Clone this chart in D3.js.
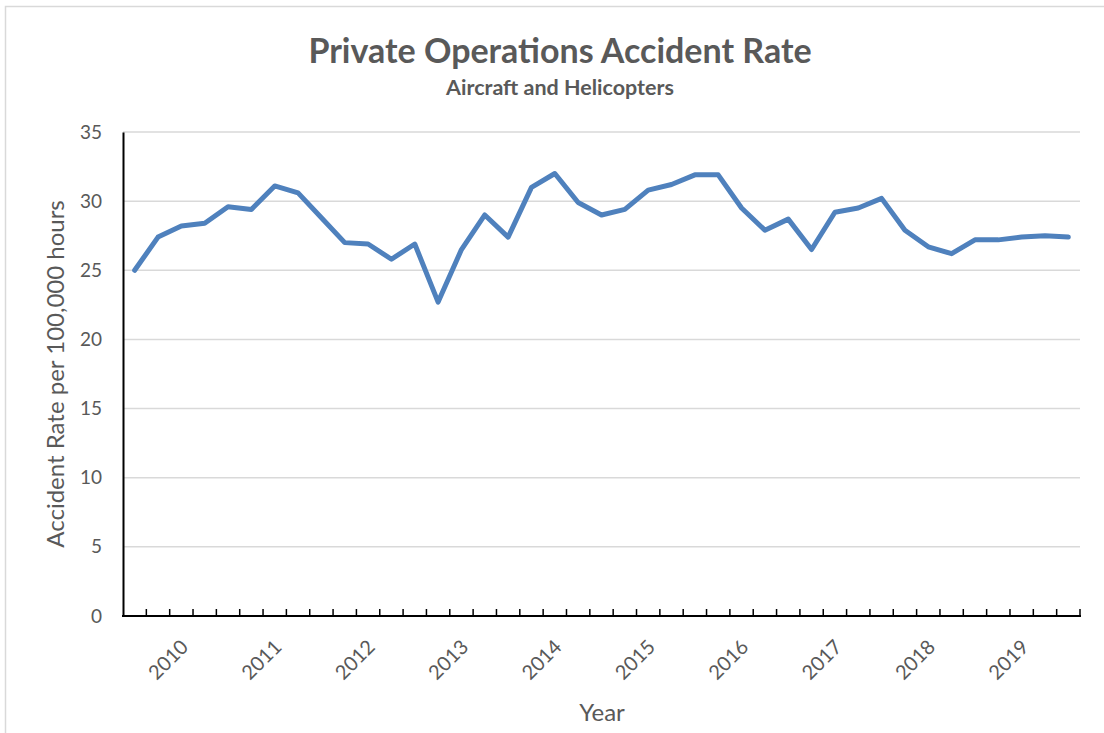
<!DOCTYPE html>
<html>
<head>
<meta charset="utf-8">
<script src="https://cdn.jsdelivr.net/npm/d3@7"></script>
<style>
  body { margin: 0; background: #fff; }
  svg { display: block; font-family: Lato, "Open Sans", sans-serif; }
</style>
</head>
<body>
<div id="chart"></div>
<script>
// quarterly accident rate, 41 quarters
var quarters = ["2009 Q4","2010 Q1","2010 Q2","2010 Q3","2010 Q4","2011 Q1","2011 Q2","2011 Q3","2011 Q4",
  "2012 Q1","2012 Q2","2012 Q3","2012 Q4","2013 Q1","2013 Q2","2013 Q3","2013 Q4",
  "2014 Q1","2014 Q2","2014 Q3","2014 Q4","2015 Q1","2015 Q2","2015 Q3","2015 Q4",
  "2016 Q1","2016 Q2","2016 Q3","2016 Q4","2017 Q1","2017 Q2","2017 Q3","2017 Q4",
  "2018 Q1","2018 Q2","2018 Q3","2018 Q4","2019 Q1","2019 Q2","2019 Q3","2019 Q4"];
var rates = [25.0, 27.4, 28.2, 28.4, 29.6, 29.4, 31.1, 30.6, 28.8, 27.0,
  26.9, 25.8, 26.9, 22.7, 26.5, 29.0, 27.4, 31.0, 32.0, 29.9,
  29.0, 29.4, 30.8, 31.2, 31.9, 31.9, 29.5, 27.9, 28.7, 26.5,
  29.2, 29.5, 30.2, 27.9, 26.7, 26.2, 27.2, 27.2, 27.4, 27.5, 27.4];
var yearLabels = ["2010","2011","2012","2013","2014","2015","2016","2017","2018","2019"];
var yearLabelIndex = [2, 6, 10, 14, 18, 22, 26, 30, 34, 38];
var yTicks = [0, 5, 10, 15, 20, 25, 30, 35];

// plot area ("top" is taken by window.top, so use other names)
var W = 1104, H = 733;
var plotLeft = 123, plotRight = 1080, plotTop = 132, plotBottom = 616;
var grey = "#595959";

var svg = d3.select("#chart").append("svg")
  .attr("width", W)
  .attr("height", H);

// chart area border
svg.append("path")
  .attr("d", "M5.5," + H + "V6.5H" + W)
  .attr("fill", "none")
  .attr("stroke", "#d9d9d9")
  .attr("stroke-width", 1.5);

// titles
svg.append("text")
  .attr("x", 560).attr("y", 63)
  .attr("text-anchor", "middle")
  .style("font-size", "34px").style("font-weight", "bold")
  .attr("fill", grey)
  .text("Private Operations Accident Rate");
svg.append("text")
  .attr("x", 560).attr("y", 95)
  .attr("text-anchor", "middle")
  .style("font-size", "21.5px").style("font-weight", "bold")
  .attr("fill", grey)
  .text("Aircraft and Helicopters");

// scales
var x = d3.scaleBand()
  .domain(quarters)
  .range([plotLeft, plotRight])
  .padding(0);
var y = d3.scaleLinear()
  .domain([0, 35])
  .range([plotBottom, plotTop]);

// gridlines
svg.append("g")
  .selectAll("line")
  .data(yTicks.filter(function(d){ return d > 0; }))
  .enter().append("line")
  .attr("x1", plotLeft).attr("x2", plotRight)
  .attr("y1", function(d){ return y(d); })
  .attr("y2", function(d){ return y(d); })
  .attr("stroke", "#d9d9d9")
  .attr("stroke-width", 1.5);

// y axis
var yAxis = svg.append("g")
  .attr("transform", "translate(" + plotLeft + ",0)")
  .call(d3.axisLeft(y).tickValues(yTicks).tickSize(0).tickPadding(21));
yAxis.select(".domain").attr("stroke", "#000").attr("stroke-width", 2);
yAxis.selectAll("text")
  .style("font-size", "19px")
  .style("font-family", "Lato, 'Open Sans', sans-serif")
  .attr("fill", grey);

// x axis: ticks between categories
var bounds = quarters.map(function(q){ return x(q); }).concat([plotRight]);
var xAxis = svg.append("g");
xAxis.append("line")
  .attr("x1", plotLeft - 1).attr("x2", plotRight + 1)
  .attr("y1", plotBottom).attr("y2", plotBottom)
  .attr("stroke", "#000").attr("stroke-width", 2);
xAxis.selectAll("line.tick")
  .data(bounds.slice(1))
  .enter().append("line")
  .attr("class", "tick")
  .attr("x1", function(d){ return d; }).attr("x2", function(d){ return d; })
  .attr("y1", plotBottom).attr("y2", plotBottom - 7)
  .attr("stroke", "#000").attr("stroke-width", 1.5);

xAxis.selectAll("text")
  .data(yearLabels)
  .enter().append("text")
  .attr("transform", function(d, i){
    var cx = x(quarters[yearLabelIndex[i]]) + x.bandwidth() / 2;
    return "translate(" + (cx - 2) + "," + 638 + ") rotate(-45)";
  })
  .attr("text-anchor", "end")
  .attr("dy", "0.72em")
  .style("font-size", "20px")
  .attr("fill", grey)
  .text(function(d){ return d; });

// axis titles
svg.append("text")
  .attr("transform", "translate(64," + ((plotTop + plotBottom) / 2) + ") rotate(-90)")
  .attr("text-anchor", "middle")
  .style("font-size", "24px")
  .attr("fill", grey)
  .text("Accident Rate per 100,000 hours");
svg.append("text")
  .attr("x", 602).attr("y", 721)
  .attr("text-anchor", "middle")
  .style("font-size", "24px")
  .attr("fill", grey)
  .text("Year");

// the line
var line = d3.line()
  .x(function(d, i){ return x(quarters[i]) + x.bandwidth() / 2; })
  .y(function(d){ return y(d); });
svg.append("path")
  .datum(rates)
  .attr("d", line)
  .attr("fill", "none")
  .attr("stroke", "#4f81bd")
  .attr("stroke-width", 5)
  .attr("stroke-linejoin", "round")
  .attr("stroke-linecap", "round");
</script>
</body>
</html>
